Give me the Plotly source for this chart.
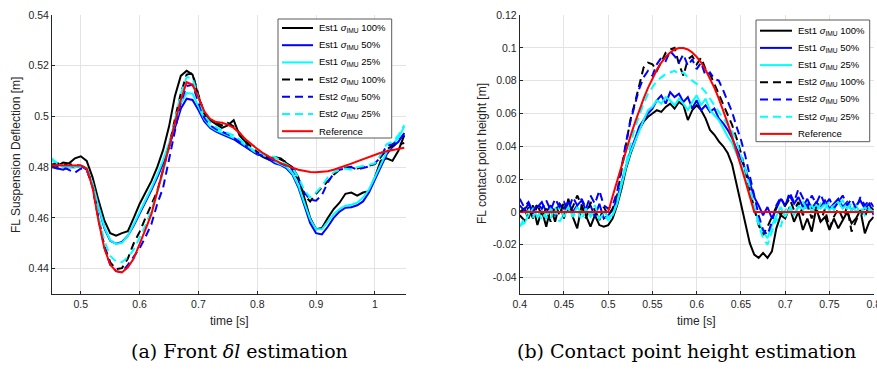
import plotly.graph_objects as go

W, H = 877, 375

# ---------------- (a) front suspension deflection ----------------
t_a = [round(0.45 + 0.01 * i, 2) for i in range(61)]

ref_a = [0.4808, 0.4808, 0.4808, 0.4808, 0.4808, 0.4807, 0.4795, 0.4720, 0.4590, 0.4480,
         0.4415, 0.4390, 0.4385, 0.4405, 0.4440, 0.4495, 0.4555, 0.4615, 0.4700, 0.4790,
         0.4880, 0.4975, 0.5065, 0.5135, 0.5125, 0.5075, 0.5020, 0.4990, 0.4978, 0.4975,
         0.4968, 0.4955, 0.4935, 0.4910, 0.4890, 0.4872, 0.4855, 0.4840, 0.4828, 0.4816,
         0.4806, 0.4798, 0.4790, 0.4785, 0.4781, 0.4780, 0.4781, 0.4784, 0.4790, 0.4797,
         0.4805, 0.4814, 0.4823, 0.4832, 0.4841, 0.4850, 0.4857, 0.4863, 0.4868, 0.4873, 0.4877]

e1_100_a = [0.4810, 0.4805, 0.4818, 0.4815, 0.4835, 0.4843, 0.4825, 0.4760, 0.4670, 0.4590,
            0.4540, 0.4530, 0.4540, 0.4548, 0.4600, 0.4655, 0.4700, 0.4745, 0.4800, 0.4868,
            0.4960, 0.5080, 0.5160, 0.5180, 0.5165, 0.5080, 0.5010, 0.4985, 0.4970, 0.4955,
            0.4965, 0.4985, 0.4925, 0.4900, 0.4870, 0.4855, 0.4840, 0.4830, 0.4840, 0.4835,
            0.4815, 0.4800, 0.4760, 0.4680, 0.4600, 0.4555, 0.4560, 0.4600, 0.4635, 0.4660,
            0.4695, 0.4700, 0.4688, 0.4700, 0.4705, 0.4760, 0.4825, 0.4835, 0.4825, 0.4865, 0.4925]

e1_50_a = [0.4800, 0.4795, 0.4790, 0.4800, 0.4800, 0.4805, 0.4790, 0.4730, 0.4640, 0.4560,
           0.4510, 0.4498, 0.4505, 0.4530, 0.4570, 0.4615, 0.4665, 0.4710, 0.4760, 0.4815,
           0.4880, 0.4955, 0.5030, 0.5070, 0.5065, 0.5025, 0.4980, 0.4955, 0.4940, 0.4930,
           0.4920, 0.4910, 0.4895, 0.4880, 0.4865, 0.4850, 0.4845, 0.4830, 0.4815, 0.4808,
           0.4795, 0.4770, 0.4720, 0.4650, 0.4580, 0.4540, 0.4535, 0.4565, 0.4600, 0.4625,
           0.4640, 0.4642, 0.4650, 0.4665, 0.4700, 0.4750, 0.4800, 0.4850, 0.4880, 0.4900, 0.4935]

e1_25_a = [0.4830, 0.4810, 0.4805, 0.4800, 0.4805, 0.4806, 0.4795, 0.4735, 0.4645, 0.4565,
           0.4512, 0.4497, 0.4502, 0.4530, 0.4575, 0.4622, 0.4672, 0.4718, 0.4770, 0.4828,
           0.4895, 0.4975, 0.5050, 0.5092, 0.5090, 0.5040, 0.4990, 0.4960, 0.4945, 0.4935,
           0.4925, 0.4915, 0.4905, 0.4885, 0.4870, 0.4855, 0.4848, 0.4838, 0.4822, 0.4812,
           0.4800, 0.4775, 0.4728, 0.4660, 0.4595, 0.4555, 0.4555, 0.4585, 0.4615, 0.4635,
           0.4648, 0.4652, 0.4660, 0.4680, 0.4712, 0.4760, 0.4810, 0.4860, 0.4890, 0.4915, 0.4960]

e2_100_a = [0.4810, 0.4815, 0.4810, 0.4812, 0.4808, 0.4806, 0.4795, 0.4725, 0.4600, 0.4490,
            0.4425, 0.4398, 0.4402, 0.4440, 0.4500, 0.4545, 0.4600, 0.4650, 0.4705, 0.4790,
            0.4880, 0.4990, 0.5090, 0.5165, 0.5170, 0.5085, 0.5010, 0.4985, 0.4975, 0.4965,
            0.4975, 0.4960, 0.4935, 0.4905, 0.4880, 0.4860, 0.4845, 0.4835, 0.4840, 0.4830,
            0.4820, 0.4790, 0.4750, 0.4690, 0.4665, 0.4695, 0.4720, 0.4745, 0.4770, 0.4790,
            0.4798, 0.4802, 0.4795, 0.4800, 0.4805, 0.4812, 0.4840, 0.4870, 0.4885, 0.4890, 0.4895]

e2_50_a = [0.4805, 0.4795, 0.4800, 0.4790, 0.4778, 0.4795, 0.4790, 0.4722, 0.4595, 0.4485,
           0.4415, 0.4390, 0.4385, 0.4415, 0.4450, 0.4480, 0.4525, 0.4575, 0.4655, 0.4720,
           0.4830, 0.4950, 0.5055, 0.5120, 0.5125, 0.5055, 0.4995, 0.4965, 0.4950, 0.4940,
           0.4930, 0.4915, 0.4900, 0.4885, 0.4865, 0.4855, 0.4848, 0.4838, 0.4825, 0.4815,
           0.4805, 0.4790, 0.4755, 0.4700, 0.4672, 0.4668, 0.4690, 0.4740, 0.4775, 0.4790,
           0.4795, 0.4800, 0.4790, 0.4798, 0.4803, 0.4815, 0.4840, 0.4885, 0.4890, 0.4905, 0.4930]

e2_25_a = [0.4835, 0.4815, 0.4800, 0.4808, 0.4800, 0.4805, 0.4795, 0.4728, 0.4610, 0.4510,
           0.4450, 0.4428, 0.4425, 0.4445, 0.4475, 0.4520, 0.4570, 0.4630, 0.4700, 0.4780,
           0.4880, 0.4990, 0.5090, 0.5155, 0.5150, 0.5075, 0.5005, 0.4975, 0.4958, 0.4945,
           0.4935, 0.4925, 0.4910, 0.4890, 0.4872, 0.4860, 0.4852, 0.4845, 0.4840, 0.4825,
           0.4812, 0.4795, 0.4760, 0.4710, 0.4680, 0.4700, 0.4725, 0.4760, 0.4780, 0.4790,
           0.4795, 0.4790, 0.4800, 0.4805, 0.4808, 0.4815, 0.4850, 0.4890, 0.4900, 0.4925, 0.4965]

# ---------------- (b) contact point height ----------------
t_b = [round(0.40 + 0.005 * i, 3) for i in range(81)]

ref_b = [0, 0, 0, 0, 0, 0, 0, 0, 0, 0,
         0, 0, 0, 0, 0, 0, 0, 0, 0, 0,
         0, 0.0095, 0.0189, 0.0281, 0.0372, 0.0459, 0.0541, 0.0618, 0.0690, 0.0756,
         0.0815, 0.0866, 0.0910, 0.0945, 0.0972, 0.0990, 0.0999, 0.0999, 0.0990, 0.0972,
         0.0945, 0.0910, 0.0866, 0.0815, 0.0756, 0.0690, 0.0618, 0.0541, 0.0459, 0.0372,
         0.0281, 0.0189, 0.0095, 0, 0, 0, 0, 0, 0, 0,
         0, 0, 0, 0, 0, 0, 0, 0, 0, 0,
         0, 0, 0, 0, 0, 0, 0, 0, 0, 0,
         0]

e1_100_b = [0.000, 0.002, -0.004, 0.004, -0.008, 0.001, -0.009, 0.003, -0.006, 0.005,
            -0.004, 0.008, -0.003, -0.010, 0.004, -0.002, -0.009, -0.002, -0.008, -0.009,
            -0.008, -0.004, 0.004, 0.014, 0.026, 0.035, 0.043, 0.050, 0.055, 0.058,
            0.060, 0.062, 0.061, 0.064, 0.066, 0.063, 0.067, 0.065, 0.056, 0.062,
            0.065, 0.062, 0.057, 0.050, 0.047, 0.043, 0.040, 0.036, 0.029, 0.017,
            0.003, -0.008, -0.019, -0.026, -0.028, -0.025, -0.028, -0.024, -0.010, -0.002,
            -0.004, 0.003, -0.006, 0.000, -0.011, -0.004, -0.012, 0.002, -0.006, -0.003,
            -0.011, -0.004, -0.010, -0.005, 0.000, -0.007, -0.004, 0.001, -0.013, -0.006,
            -0.003]

e1_50_b = [0.004, 0.001, 0.005, -0.001, 0.003, 0.006, 0.000, 0.004, -0.002, 0.005,
           0.002, 0.006, 0.000, 0.004, 0.007, 0.001, 0.004, -0.003, 0.005, -0.004,
           -0.002, 0.001, 0.008, 0.018, 0.028, 0.037, 0.044, 0.052, 0.056, 0.060,
           0.063, 0.068, 0.071, 0.066, 0.073, 0.070, 0.072, 0.067, 0.070, 0.063,
           0.068, 0.062, 0.065, 0.061, 0.063, 0.057, 0.054, 0.050, 0.045, 0.039,
           0.033, 0.026, 0.018, 0.009, 0.004, -0.002, 0.003, -0.004, 0.002, 0.008,
           0.004, 0.010, 0.005, 0.009, 0.003, 0.008, 0.002, 0.006, 0.003, 0.007,
           0.002, 0.005, 0.008, 0.003, 0.006, 0.001, 0.004, 0.007, 0.002, 0.005,
           -0.002]

e1_25_b = [-0.008, -0.007, -0.002, 0.002, -0.003, 0.001, -0.004, 0.002, -0.001, 0.003,
           -0.003, 0.002, -0.002, 0.003, -0.001, 0.002, -0.003, 0.001, -0.004, 0.000,
           -0.003, -0.002, 0.005, 0.016, 0.027, 0.036, 0.043, 0.050, 0.056, 0.062,
           0.064, 0.068, 0.066, 0.070, 0.068, 0.065, 0.069, 0.066, 0.062, 0.067,
           0.071, 0.065, 0.069, 0.062, 0.059, 0.056, 0.051, 0.046, 0.042, 0.036,
           0.029, 0.020, 0.011, 0.002, -0.006, -0.012, -0.016, -0.008, -0.002, 0.003,
           -0.003, 0.002, -0.002, 0.004, 0.001, 0.005, 0.000, 0.004, 0.002, 0.005,
           0.001, 0.004, 0.006, 0.002, 0.005, 0.001, 0.004, -0.001, 0.003, 0.000,
           0.002]

e2_100_b = [-0.002, -0.005, 0.003, -0.004, 0.005, -0.003, 0.002, -0.006, 0.004, -0.002,
            0.006, -0.001, 0.003, 0.010, 0.004, -0.004, 0.006, 0.001, -0.005, 0.003,
            -0.002, 0.002, 0.010, 0.026, 0.042, 0.056, 0.066, 0.078, 0.088, 0.091,
            0.090, 0.086, 0.092, 0.097, 0.099, 0.100, 0.090, 0.083, 0.093, 0.095,
            0.090, 0.094, 0.087, 0.084, 0.078, 0.072, 0.066, 0.060, 0.053, 0.045,
            0.036, 0.025, 0.013, 0.002, -0.008, -0.014, -0.009, -0.003, 0.003, -0.002,
            0.004, 0.008, 0.001, 0.006, -0.002, 0.004, -0.004, 0.003, -0.006, 0.002,
            -0.010, -0.003, 0.002, -0.004, 0.003, -0.012, -0.005, 0.001, -0.003, 0.004,
            0.001]

e2_50_b = [0.008, 0.003, 0.006, 0.000, 0.005, 0.002, 0.007, 0.001, 0.008, 0.003,
           0.006, 0.001, 0.009, 0.004, 0.008, 0.002, 0.010, 0.005, 0.013, 0.004,
           0.002, 0.004, 0.012, 0.028, 0.042, 0.055, 0.065, 0.075, 0.082, 0.086,
           0.083, 0.090, 0.094, 0.092, 0.098, 0.095, 0.091, 0.096, 0.089, 0.093,
           0.087, 0.091, 0.083, 0.085, 0.081, 0.080, 0.074, 0.068, 0.061, 0.052,
           0.044, 0.034, 0.022, 0.010, -0.002, -0.011, -0.014, -0.006, 0.004, 0.009,
           0.003, 0.012, 0.006, 0.014, 0.008, 0.003, 0.010, 0.005, 0.011, 0.004,
           0.008, 0.002, 0.006, 0.010, 0.004, 0.008, 0.002, 0.009, 0.004, 0.007,
           0.003]

e2_25_b = [-0.009, -0.004, 0.001, -0.003, 0.002, -0.005, 0.000, -0.004, 0.003, -0.006,
           -0.001, 0.003, -0.003, 0.001, -0.005, 0.002, -0.002, 0.004, -0.004, -0.001,
           -0.005, -0.002, 0.006, 0.018, 0.030, 0.041, 0.051, 0.059, 0.066, 0.072,
           0.076, 0.080, 0.082, 0.084, 0.085, 0.086, 0.084, 0.085, 0.082, 0.080,
           0.078, 0.076, 0.073, 0.069, 0.065, 0.061, 0.057, 0.053, 0.049, 0.043,
           0.035, 0.026, 0.015, 0.004, -0.008, -0.016, -0.020, -0.012, -0.004, -0.009,
           0.001, 0.004, -0.002, 0.003, 0.006, 0.001, 0.004, 0.000, 0.005, 0.002,
           0.006, 0.001, 0.004, 0.007, 0.002, 0.005, 0.000, 0.003, -0.002, 0.002,
           0.000]

# tick values / labels
xt_a = [0.5, 0.6, 0.7, 0.8, 0.9, 1.0]
xl_a = ["0.5", "0.6", "0.7", "0.8", "0.9", "1"]
yt_a = [0.44, 0.46, 0.48, 0.50, 0.52, 0.54]
yl_a = ["0.44", "0.46", "0.48", "0.5", "0.52", "0.54"]
xt_b = [0.40, 0.45, 0.50, 0.55, 0.60, 0.65, 0.70, 0.75, 0.80]
xl_b = ["0.4", "0.45", "0.5", "0.55", "0.6", "0.65", "0.7", "0.75", "0.8"]
yt_b = [-0.04, -0.02, 0, 0.02, 0.04, 0.06, 0.08, 0.10, 0.12]
yl_b = ["-0.04", "-0.02", "0", "0.02", "0.04", "0.06", "0.08", "0.1", "0.12"]

names = ["Est1 <i>σ</i><sub>IMU</sub> 100%", "Est1 <i>σ</i><sub>IMU</sub> 50%",
         "Est1 <i>σ</i><sub>IMU</sub> 25%", "Est2 <i>σ</i><sub>IMU</sub> 100%",
         "Est2 <i>σ</i><sub>IMU</sub> 50%", "Est2 <i>σ</i><sub>IMU</sub> 25%",
         "Reference"]
colors = ["#000000", "#0000FF", "#00FFFF", "#000000", "#0000FF", "#00FFFF", "#FF0000"]
dashes = ["solid", "solid", "solid", "8px,5px", "8px,5px", "8px,5px", "solid"]

series_a = [e1_100_a, e1_50_a, e1_25_a, e2_100_a, e2_50_a, e2_25_a, ref_a]
series_b = [e1_100_b, e1_50_b, e1_25_b, e2_100_b, e2_50_b, e2_25_b, ref_b]

fig = go.Figure()
for nm, c, d, ya in zip(names, colors, dashes, series_a):
    fig.add_trace(go.Scatter(x=t_a, y=ya, mode="lines", name=nm, xaxis="x", yaxis="y",
                             line=dict(color=c, width=2, dash=d), showlegend=False))
for nm, c, d, yb in zip(names, colors, dashes, series_b):
    fig.add_trace(go.Scatter(x=t_b, y=yb, mode="lines", name=nm, xaxis="x2", yaxis="y2",
                             line=dict(color=c, width=2, dash=d), showlegend=False))


def px(x):
    return x / W


def py(y):
    return 1 - y / H


SANS = "Liberation Sans"
axis_font = dict(family=SANS, size=10.5, color="#262626")
common = dict(showgrid=True, gridcolor="#e3e3e3", gridwidth=1, zeroline=False,
              showline=True, linecolor="#262626", linewidth=1, mirror=False,
              ticks="inside", ticklen=3, tickcolor="#262626", tickfont=axis_font,
              automargin=False, ticklabeloverflow="allow")

fig.update_layout(
    template="none",
    width=W, height=H, margin=dict(l=0, r=0, t=0, b=0, autoexpand=False),
    paper_bgcolor="white", plot_bgcolor="white", showlegend=False,
    xaxis=dict(domain=[px(52), px(406)], range=[0.451, 1.053], anchor="y",
               tickvals=xt_a, ticktext=xl_a, **common),
    yaxis=dict(domain=[py(294), py(15)], range=[0.43, 0.54], anchor="x",
               tickvals=yt_a, ticktext=yl_a, **common),
    xaxis2=dict(domain=[px(519.7), px(873.7)], range=[0.4, 0.80001], anchor="y2",
                tickvals=xt_b, ticktext=xl_b, **common),
    yaxis2=dict(domain=[py(294), py(15)], range=[-0.05, 0.12], anchor="x2",
                tickvals=yt_b, ticktext=yl_b, **common),
)

# legend boxes: (left, top, right, bottom, first row centre, row step, sample x0, sample x1, text x)
legend_boxes = [
    (278, 19, 391.7, 138, 28, 17.2, 282, 313, 317),
    (756, 20, 869.7, 141.7, 30.7, 17.2, 760, 792, 795.5),
]
leg_font = dict(family=SANS, size=9.5, color="#000000")
for (l, t, r, b, y0, dy, sx0, sx1, tx) in legend_boxes:
    fig.add_shape(type="rect", xref="paper", yref="paper", layer="above",
                  x0=px(l), x1=px(r), y0=py(b), y1=py(t),
                  fillcolor="white", line=dict(color="#5a5a5a", width=1))
    for i, (nm, c, d) in enumerate(zip(names, colors, dashes)):
        yy = y0 + i * dy
        fig.add_shape(type="line", xref="paper", yref="paper", layer="above",
                      x0=px(sx0), x1=px(sx1), y0=py(yy), y1=py(yy),
                      line=dict(color=c, width=2, dash=d))
        fig.add_annotation(xref="paper", yref="paper", showarrow=False,
                           x=px(tx), y=py(yy), xanchor="left", yanchor="middle",
                           text=nm, font=leg_font)

title_font = dict(family=SANS, size=12, color="#262626")
cap_font = dict(family="DejaVu Serif", size=19, color="#000000")
annos = [
    dict(text="FL Suspension Deflection [m]", x=px(16), y=py(155), textangle=-90, font=title_font),
    dict(text="FL contact point height [m]", x=px(482), y=py(154), textangle=-90, font=title_font),
    dict(text="time [s]", x=px(229), y=py(321), font=title_font),
    dict(text="time [s]", x=px(696.7), y=py(321), font=title_font),
    dict(text="(a) Front <i>δl</i> estimation", x=px(239.5), y=py(351), font=cap_font),
    dict(text="(b) Contact point height estimation", x=px(686.5), y=py(351), font=cap_font),
]
for a in annos:
    fig.add_annotation(xref="paper", yref="paper", showarrow=False,
                       xanchor="center", yanchor="middle", **a)

fig.write_html("out.html")
